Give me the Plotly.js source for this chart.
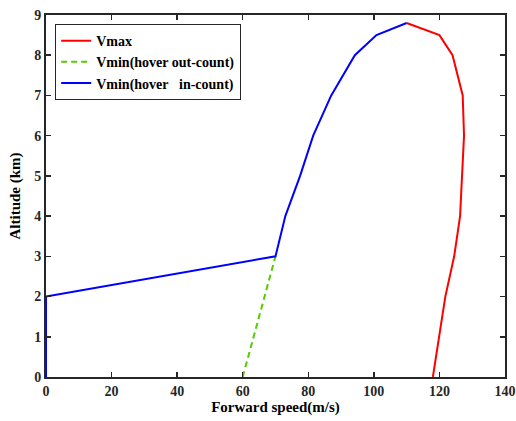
<!DOCTYPE html>
<html><head><meta charset="utf-8">
<script src="https://cdn.plot.ly/plotly-3.0.1.min.js"></script>
<style>body{margin:0;background:#fff}#c{width:516px;height:421px}</style>
</head><body><div id="c"></div>
<script>
const vmaxSpeed = [110, 120, 124, 127.1, 127.5, 127, 126.3, 124.5, 121.8, 118];
const vmaxAlt   = [8.8, 8.5, 8.0, 7.0, 6.0, 5.0, 4.0, 3.0, 2.0, 0];
const vminOutSpeed = [60, 70];
const vminOutAlt   = [0, 3];
const vminInSpeed = [0, 0, 70, 73, 77.5, 81.5, 87, 94.2, 100.8, 110];
const vminInAlt   = [0, 2, 3, 4, 5, 6, 7, 8, 8.5, 8.8];
const names = ['Vmax', 'Vmin(hover out-count)', 'Vmin(hover\u00A0\u00A0\u00A0in-count)'];
const xTicks = [0,20,40,60,80,100,120,140];
const yTicks = [0,1,2,3,4,5,6,7,8,9];
const xTitle = 'Forward speed(m/s)';
const yTitle = 'Altitude (km)';

const fam = 'Liberation Serif, Times New Roman, serif';
const b = s => '<b>' + s + '</b>';
const traces = [
  {x: vmaxSpeed, y: vmaxAlt, name: b(names[0]), mode: 'lines', line: {color: '#ff0000', width: 2}},
  {x: vminOutSpeed, y: vminOutAlt, name: b(names[1]), mode: 'lines', line: {color: '#55cc00', width: 2, dash: '6px,4px'}},
  {x: vminInSpeed, y: vminInAlt, name: b(names[2]), mode: 'lines', line: {color: '#0000ff', width: 2}}
];
const axisBase = {showgrid: false, zeroline: false, showline: true, linecolor: '#262626', linewidth: 2,
  mirror: 'ticks', ticks: 'inside', ticklen: 5, tickwidth: 1.5, tickcolor: '#262626',
  tickfont: {family: fam, size: 14, color: '#262626'}};
const layout = {
  width: 516, height: 421,
  margin: {l: 46, r: 11, t: 15, b: 44},
  paper_bgcolor: '#fff', plot_bgcolor: '#fff',
  font: {family: fam, size: 14, color: '#262626'},
  showlegend: true,
  legend: {x: 0.02, y: 0.975, xanchor: 'left', yanchor: 'top', bgcolor: '#fff',
    bordercolor: '#262626', borderwidth: 1, itemwidth: 30, tracegroupgap: 0,
    font: {family: fam, size: 14, color: '#000'}},
  xaxis: Object.assign({}, axisBase, {range: [0, 140], tickvals: xTicks, ticktext: xTicks.map(v => b(v)),
    title: {text: b(xTitle), standoff: 4, font: {family: fam, size: 15, color: '#000'}}}),
  yaxis: Object.assign({}, axisBase, {range: [0, 9], tickvals: yTicks, ticktext: yTicks.map(v => b(v)),
    title: {text: b(yTitle), standoff: 10, font: {family: fam, size: 15, color: '#000'}}})
};
Plotly.newPlot('c', traces, layout, {displayModeBar: false, staticPlot: true});
</script></body></html>
